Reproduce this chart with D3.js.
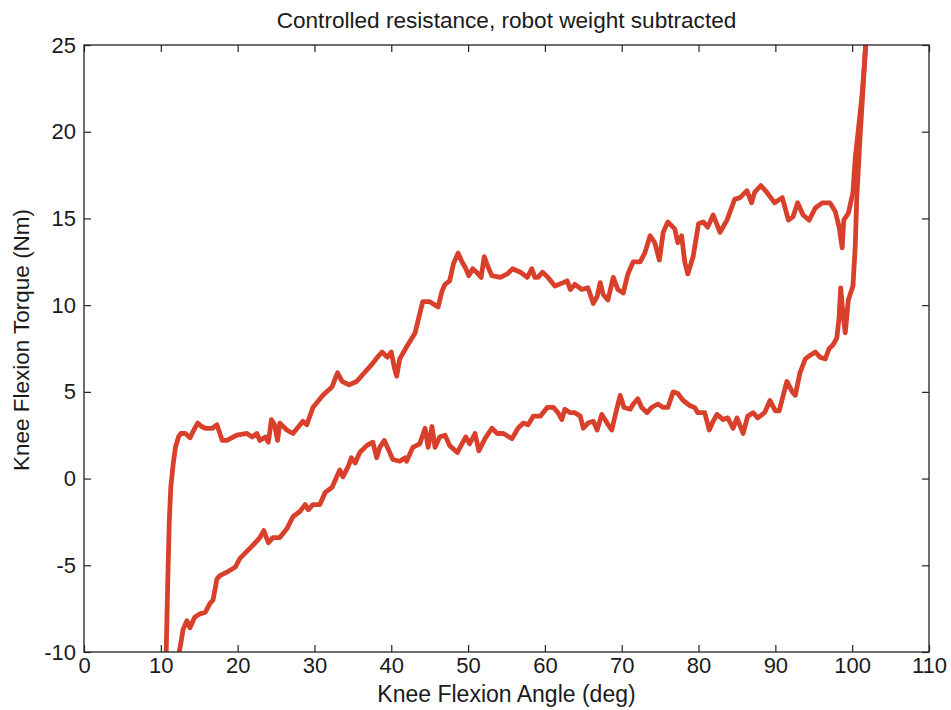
<!DOCTYPE html>
<html>
<head>
<meta charset="utf-8">
<script src="https://cdn.jsdelivr.net/npm/d3@7"></script>
<style>
  body { margin: 0; background: #fff; }
  text { font-family: "Liberation Sans", Arial, sans-serif; fill: #1a1a1a; }
</style>
</head>
<body>
<div id="chart"></div>
<script>
const xTicks = [0, 10, 20, 30, 40, 50, 60, 70, 80, 90, 100, 110];
const yTicks = [-10, -5, 0, 5, 10, 15, 20, 25];

// upper branch of the loop (angle in deg, torque in Nm)
const upperAngle = [10.7, 10.9, 11.1, 11.3, 11.6, 11.9, 12.3, 12.6, 13.2, 13.8, 14.3, 14.8, 15.3, 15.8, 16.7, 17.3, 18.0, 18.6, 19.9, 21.2,
  21.9, 22.5, 22.9, 23.6, 24.0, 24.4, 24.8, 25.2, 25.5, 26.4, 27.2, 28.5, 29.0, 29.8, 31.1, 32.3, 33.0, 33.6, 34.5, 35.5,
  36.5, 37.5, 38.2, 38.8, 39.5, 40.0, 40.4, 40.7, 41.1, 42.0, 43.1, 43.7, 44.1, 45.0, 46.1, 46.6, 47.0, 47.6, 48.1, 48.7,
  49.2, 49.6, 50.1, 50.6, 51.1, 51.7, 52.1, 52.6, 53.1, 54.2, 55.1, 55.8, 56.8, 57.7, 58.3, 58.7, 59.1, 59.7, 60.4, 61.3,
  62.4, 62.9, 63.3, 63.9, 64.8, 65.6, 66.3, 66.8, 67.2, 67.6, 68.2, 68.9, 69.5, 70.2, 70.8, 71.5, 72.4, 73.0, 73.7, 74.3,
  74.9, 75.4, 76.0, 76.9, 77.3, 77.8, 78.2, 78.6, 79.3, 80.0, 80.6, 81.2, 81.9, 82.8, 83.7, 84.7, 85.4, 86.3, 86.9, 87.3,
  88.1, 88.9, 89.9, 90.9, 91.7, 92.3, 92.9, 93.6, 94.4, 95.2, 96.1, 97.1, 97.8, 98.3, 98.7, 98.9, 99.5, 100.1, 100.4, 100.8,
  101.3, 101.7, 101.9];
const upperTorque = [-10, -6, -2.5, -0.5, 0.8, 1.8, 2.4, 2.6, 2.6, 2.35, 2.8, 3.2, 3.0, 2.9, 2.9, 3.1, 2.2, 2.2, 2.5, 2.6,
  2.4, 2.6, 2.2, 2.4, 2.1, 3.4, 3.1, 2.2, 3.2, 2.8, 2.6, 3.3, 3.1, 4.1, 4.8, 5.3, 6.1, 5.6, 5.4, 5.6,
  6.1, 6.6, 7.0, 7.3, 7.0, 7.3, 6.4, 5.9, 6.9, 7.6, 8.4, 9.5, 10.2, 10.2, 9.9, 10.8, 11.2, 11.4, 12.4, 13.0,
  12.5, 12.2, 11.7, 12.1, 11.9, 11.6, 12.8, 12.2, 11.7, 11.6, 11.8, 12.1, 11.9, 11.6, 12.1, 11.6, 11.6, 11.9, 11.6, 11.1,
  11.3, 11.4, 10.9, 11.2, 10.9, 11.0, 10.1, 10.5, 11.3, 10.6, 10.3, 11.6, 10.9, 10.7, 11.8, 12.5, 12.5, 13.0, 14.0, 13.6,
  12.6, 14.2, 14.8, 14.4, 13.6, 14.0, 12.5, 11.8, 12.8, 14.7, 14.8, 14.5, 15.2, 14.2, 14.9, 16.1, 16.2, 16.6, 15.9, 16.5,
  16.9, 16.5, 15.9, 16.2, 14.9, 15.1, 15.9, 15.2, 14.9, 15.6, 15.9, 15.9, 15.4, 14.5, 13.3, 14.9, 15.3, 16.5, 18.5, 20.1,
  22.2, 24.5, 26];

// lower branch of the loop
const lowerAngle = [12.4, 12.6, 12.9, 13.4, 13.8, 14.4, 15.1, 15.8, 16.4, 16.8, 17.3, 17.7, 18.6, 19.7, 20.3, 21.2, 22.3, 22.9, 23.4, 24.0,
  24.6, 25.5, 26.4, 27.2, 28.1, 28.8, 29.2, 29.8, 30.7, 31.4, 32.3, 32.9, 33.3, 33.7, 34.4, 34.8, 35.3, 35.9, 36.8, 37.6,
  38.1, 38.5, 39.1, 39.6, 40.2, 41.1, 41.8, 42.0, 42.8, 43.7, 44.4, 44.8, 45.3, 45.7, 46.3, 47.0, 47.6, 48.6, 49.2, 49.7,
  50.2, 50.9, 51.4, 52.2, 53.1, 53.8, 54.6, 55.7, 56.5, 57.2, 57.8, 58.5, 59.4, 60.3, 61.1, 61.7, 62.2, 62.6, 63.3, 63.9,
  64.6, 65.0, 65.6, 66.3, 66.8, 67.4, 68.1, 68.7, 69.4, 69.8, 70.3, 71.1, 71.5, 72.1, 72.6, 73.3, 73.9, 74.7, 75.4, 76.0,
  76.7, 77.3, 78.0, 78.9, 79.5, 79.9, 80.8, 81.4, 81.9, 82.4, 83.2, 83.8, 84.5, 85.0, 85.8, 86.4, 87.1, 87.7, 88.6, 89.3,
  90.0, 90.5, 91.5, 92.2, 92.6, 93.2, 93.9, 94.5, 95.2, 95.8, 96.5, 97.0, 97.5, 98.0, 98.3, 98.5, 98.8, 99.1, 99.5, 100.1,
  100.4, 100.6, 101.0, 101.4, 101.7, 101.9];
const lowerTorque = [-10, -9.5, -8.7, -8.2, -8.6, -8.0, -7.8, -7.7, -7.2, -7.0, -5.8, -5.6, -5.4, -5.1, -4.6, -4.2, -3.7, -3.4, -3.0, -3.7,
  -3.4, -3.4, -2.9, -2.2, -1.9, -1.5, -1.8, -1.5, -1.5, -0.8, -0.5, 0.1, 0.5, 0.1, 0.7, 1.2, 0.9, 1.5, 1.9, 2.1,
  1.2, 1.8, 2.2, 1.7, 1.1, 1.0, 1.2, 1.0, 1.8, 2.0, 2.9, 1.8, 3.0, 1.8, 2.4, 2.5, 1.9, 1.5, 2.0, 2.4,
  2.0, 2.6, 1.6, 2.3, 2.9, 2.6, 2.6, 2.3, 2.9, 3.2, 3.1, 3.6, 3.6, 4.1, 4.1, 3.8, 3.4, 4.0, 3.8, 3.8,
  3.6, 2.9, 3.2, 3.3, 2.8, 3.7, 3.2, 2.8, 4.1, 4.8, 4.1, 4.0, 4.3, 4.6, 4.1, 3.8, 4.1, 4.3, 4.1, 4.1,
  5.0, 4.9, 4.5, 4.2, 4.1, 3.8, 3.8, 2.8, 3.3, 3.7, 3.4, 3.5, 2.9, 3.5, 2.6, 3.6, 3.8, 3.5, 3.8, 4.5,
  3.9, 3.9, 5.6, 5.0, 4.8, 6.1, 6.9, 7.1, 7.3, 7.0, 6.9, 7.5, 7.7, 8.1, 9.3, 11.0, 9.5, 8.4, 10.3, 11.1,
  13.4, 16.2, 19.5, 22.4, 24.7, 26];

const width = 951, height = 710;
const margin = {top: 45, right: 22, bottom: 58, left: 84};

const svg = d3.select("#chart").append("svg")
  .attr("width", width)
  .attr("height", height);

const x = d3.scaleLinear().domain([0, 110]).range([margin.left, width - margin.right]);
const y = d3.scaleLinear().domain([-10, 25]).range([height - margin.bottom, margin.top]);

svg.append("defs").append("clipPath").attr("id", "plot-clip")
  .append("rect")
  .attr("x", x(0)).attr("y", y(25))
  .attr("width", x(110) - x(0)).attr("height", y(-10) - y(25));

const line = d3.line().x(d => x(d[0])).y(d => y(d[1]));
const upper = upperAngle.map((a, i) => [a, upperTorque[i]]);
const lower = lowerAngle.map((a, i) => [a, lowerTorque[i]]);

const plot = svg.append("g").attr("clip-path", "url(#plot-clip)");
[upper, lower].forEach(s => {
  plot.append("path")
    .datum(s)
    .attr("fill", "none")
    .attr("stroke", "#d9402c")
    .attr("stroke-width", 4.8)
    .attr("stroke-linejoin", "round")
    .attr("stroke-linecap", "round")
    .attr("d", line);
});

// axes, ticks pointing inward on all four sides
const plain = d => String(d);   // matlab style hyphen, not unicode minus

function styleAxis(g, hideText) {
  g.select(".domain").remove();
  g.selectAll(".tick line").attr("stroke", "#222").attr("stroke-width", 1.2);
  g.selectAll(".tick text").attr("font-size", 22).attr("fill", "#1a1a1a")
    .attr("font-family", "'Liberation Sans', Arial, sans-serif");
  if (hideText) g.selectAll(".tick text").remove();
}

svg.append("g")
  .attr("transform", `translate(0,${y(-10)})`)
  .call(d3.axisBottom(x).tickValues(xTicks).tickFormat(plain).tickSize(-7).tickPadding(5))
  .call(g => styleAxis(g, false));

svg.append("g")
  .attr("transform", `translate(0,${y(25)})`)
  .call(d3.axisTop(x).tickValues(xTicks).tickSize(-7))
  .call(g => styleAxis(g, true));

svg.append("g")
  .attr("transform", `translate(${x(0)},0)`)
  .call(d3.axisLeft(y).tickValues(yTicks).tickFormat(plain).tickSize(-7).tickPadding(8))
  .call(g => styleAxis(g, false));

svg.append("g")
  .attr("transform", `translate(${x(110)},0)`)
  .call(d3.axisRight(y).tickValues(yTicks).tickSize(-7))
  .call(g => styleAxis(g, true));

svg.append("rect")
  .attr("x", x(0)).attr("y", y(25))
  .attr("width", x(110) - x(0)).attr("height", y(-10) - y(25))
  .attr("fill", "none")
  .attr("stroke", "#222")
  .attr("stroke-width", 1.3);

svg.append("text")
  .attr("x", (x(0) + x(110)) / 2)
  .attr("y", 28)
  .attr("text-anchor", "middle")
  .attr("font-size", 22.6)
  .text("Controlled resistance, robot weight subtracted");

svg.append("text")
  .attr("x", (x(0) + x(110)) / 2)
  .attr("y", 702)
  .attr("text-anchor", "middle")
  .attr("font-size", 23)
  .text("Knee Flexion Angle (deg)");

svg.append("text")
  .attr("transform", `translate(29,340) rotate(-90)`)
  .attr("text-anchor", "middle")
  .attr("font-size", 22.5)
  .text("Knee Flexion Torque (Nm)");
</script>
</body>
</html>
